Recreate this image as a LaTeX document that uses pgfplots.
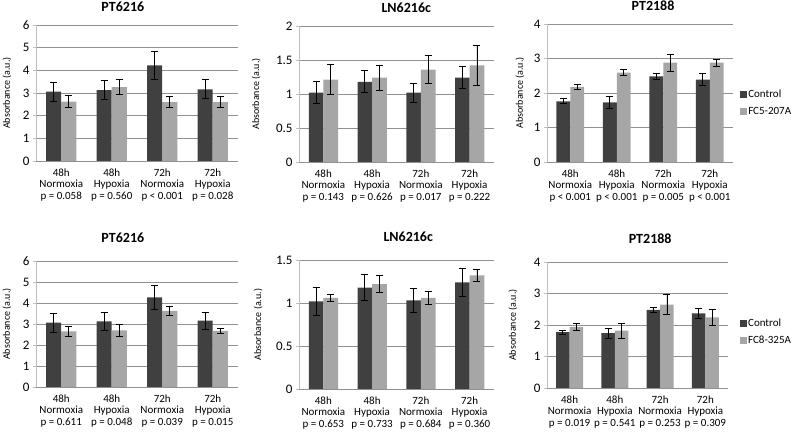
\documentclass[border=0pt]{standalone}
\usepackage{fontspec}
\setmainfont{Carlito}
\usepackage{pgfplots}
\pgfplotsset{compat=1.18}
\definecolor{ctrl}{RGB}{64,64,64}
\definecolor{treat}{RGB}{166,166,166}
\definecolor{gridgray}{RGB}{145,145,145}
\definecolor{axisgray}{RGB}{190,190,190}

\pgfplotsset{
  panel/.style={
    scale only axis, anchor=south west,
    xmin=-0.5, xmax=3.5, ymin=0,
    xtick={0,1,2,3},
    axis x line*=bottom, axis y line*=left,
    x axis line style={draw=gridgray, line width=0.8pt, -},
    y axis line style={draw=axisgray, line width=0.8pt, -},
    ymajorgrids, grid style={draw=gridgray, line width=0.8pt},
    xtick style={draw=none},
    ytick style={draw=axisgray, line width=0.8pt},
    major tick length=3pt, tick align=outside,
    /pgf/number format/assume math mode=true,
    yticklabel style={font=\fontsize{13}{15}\selectfont},
    xticklabel style={font=\fontsize{11}{11.5}\selectfont, align=center, yshift=-1pt},
    ylabel={Absorbance (a.u.)},
    ylabel style={font=\fontsize{10}{12}\selectfont, anchor=center},
    title style={font=\bfseries\fontsize{14}{16}\selectfont, anchor=south},
    legend style={draw=none, fill=none, font=\fontsize{11}{13}\selectfont,
      anchor=west, row sep=6pt, inner sep=0pt, nodes={inner sep=1pt}},
    legend cell align=left,
    legend image code/.code={\fill[##1] (0pt,-3.5pt) rectangle (7pt,3.5pt);},
  },
  errs/.style={error bars/.cd, y dir=both, y explicit,
    error bar style={black, line width=0.8pt},
    error mark options={rotate=90, black, mark size=3.5pt, line width=0.8pt}},
  cbar/.style={ybar, bar width=0.3, bar shift=0, fill=ctrl, draw=none, errs},
  tbar/.style={ybar, bar width=0.3, bar shift=0, fill=treat, draw=none, errs},
}

\begin{document}
\begin{tikzpicture}
\useasboundingbox (0,0) rectangle (795pt,433pt);

% top row: FC5-207A  (control bars at x-0.15, treated at x+0.15)
\begin{axis}[panel, at={(36pt,272pt)}, width=202pt, height=136pt,
    ymax=6, ytick={0,1,...,6},
    title={PT6216}, title style={at={(0.43,1)}, yshift=4pt},
    ylabel style={at={(axis description cs:-0.144,0.5)}},
    xticklabels={{48h\\Normoxia\\p = 0.058},{48h\\Hypoxia\\p = 0.560},{72h\\Normoxia\\p < 0.001},{72h\\Hypoxia\\p = 0.028}}]
\addplot[cbar] coordinates {(-0.15,3.06) +- (0,0.42) (0.85,3.13) +- (0,0.41) (1.85,4.22) +- (0,0.60) (2.85,3.16) +- (0,0.42)};
\addplot[tbar] coordinates {(0.15,2.62) +- (0,0.26) (1.15,3.26) +- (0,0.33) (2.15,2.60) +- (0,0.24) (3.15,2.60) +- (0,0.25)};
\end{axis}

\begin{axis}[panel, at={(299pt,271pt)}, width=195pt, height=136pt,
    ymax=2, ytick={0,0.5,...,2},
    title={LN6216c}, title style={at={(0.55,1)}, yshift=4pt},
    ylabel style={at={(axis description cs:-0.22,0.5)}},
    xticklabels={{48h\\Normoxia\\p = 0.143},{48h\\Hypoxia\\p = 0.626},{72h\\Normoxia\\p = 0.017},{72h\\Hypoxia\\p = 0.222}}]
\addplot[cbar] coordinates {(-0.15,1.02) +- (0,0.16) (0.85,1.18) +- (0,0.16) (1.85,1.02) +- (0,0.14) (2.85,1.24) +- (0,0.165)};
\addplot[tbar] coordinates {(0.15,1.21) +- (0,0.22) (1.15,1.24) +- (0,0.18) (2.15,1.36) +- (0,0.21) (3.15,1.42) +- (0,0.29)};
\end{axis}

\begin{axis}[panel, at={(547pt,271pt)}, width=186pt, height=138pt,
    ymax=4, ytick={0,1,...,4},
    title={PT2188}, title style={at={(0.57,1)}, yshift=4pt},
    ylabel style={at={(axis description cs:-0.145,0.5)}},
    legend style={at={(1.038,0.43)}},
    xticklabels={{48h\\Normoxia\\p < 0.001},{48h\\Hypoxia\\p < 0.001},{72h\\Normoxia\\p = 0.005},{72h\\Hypoxia\\p < 0.001}}]
\addplot[cbar] coordinates {(-0.15,1.76) +- (0,0.07) (0.85,1.73) +- (0,0.18) (1.85,2.48) +- (0,0.08) (2.85,2.39) +- (0,0.17)};
\addplot[tbar] coordinates {(0.15,2.18) +- (0,0.07) (1.15,2.59) +- (0,0.08) (2.15,2.88) +- (0,0.24) (3.15,2.88) +- (0,0.10)};
\legend{Control, FC5-207A}
\end{axis}

% bottom row: FC8-325A
\begin{axis}[panel, at={(36pt,46pt)}, width=202pt, height=126pt,
    ymax=6, ytick={0,1,...,6},
    title={PT6216}, title style={at={(0.43,1)}, yshift=9pt},
    ylabel style={at={(axis description cs:-0.144,0.5)}},
    xticklabels={{48h\\Normoxia\\p = 0.611},{48h\\Hypoxia\\p = 0.048},{72h\\Normoxia\\p = 0.039},{72h\\Hypoxia\\p = 0.015}}]
\addplot[cbar] coordinates {(-0.15,3.06) +- (0,0.44) (0.85,3.13) +- (0,0.42) (1.85,4.27) +- (0,0.58) (2.85,3.16) +- (0,0.41)};
\addplot[tbar] coordinates {(0.15,2.65) +- (0,0.25) (1.15,2.70) +- (0,0.27) (2.15,3.63) +- (0,0.23) (3.15,2.67) +- (0,0.11)};
\end{axis}

\begin{axis}[panel, at={(299pt,44pt)}, width=195pt, height=129pt,
    ymax=1.5, ytick={0,0.5,...,1.5},
    title={LN6216c}, title style={at={(0.56,1)}, yshift=9pt},
    ylabel style={at={(axis description cs:-0.21,0.5)}},
    xticklabels={{48h\\Normoxia\\p = 0.653},{48h\\Hypoxia\\p = 0.733},{72h\\Normoxia\\p = 0.684},{72h\\Hypoxia\\p = 0.360}}]
\addplot[cbar] coordinates {(-0.15,1.02) +- (0,0.16) (0.85,1.18) +- (0,0.155) (1.85,1.03) +- (0,0.14) (2.85,1.24) +- (0,0.16)};
\addplot[tbar] coordinates {(0.15,1.06) +- (0,0.04) (1.15,1.22) +- (0,0.10) (2.15,1.06) +- (0,0.08) (3.15,1.32) +- (0,0.07)};
\end{axis}

\begin{axis}[panel, at={(547pt,45pt)}, width=181pt, height=126pt,
    ymax=4, ytick={0,1,...,4},
    title={PT2188}, title style={at={(0.57,1)}, yshift=9pt},
    ylabel style={at={(axis description cs:-0.188,0.5)}},
    legend style={at={(1.066,0.448)}},
    xticklabels={{48h\\Normoxia\\p = 0.019},{48h\\Hypoxia\\p = 0.541},{72h\\Normoxia\\p = 0.253},{72h\\Hypoxia\\p = 0.309}}]
\addplot[cbar] coordinates {(-0.15,1.77) +- (0,0.06) (0.85,1.74) +- (0,0.16) (1.85,2.48) +- (0,0.08) (2.85,2.37) +- (0,0.17)};
\addplot[tbar] coordinates {(0.15,1.94) +- (0,0.12) (1.15,1.82) +- (0,0.24) (2.15,2.65) +- (0,0.32) (3.15,2.24) +- (0,0.24)};
\legend{Control, FC8-325A}
\end{axis}
\end{tikzpicture}
\end{document}
